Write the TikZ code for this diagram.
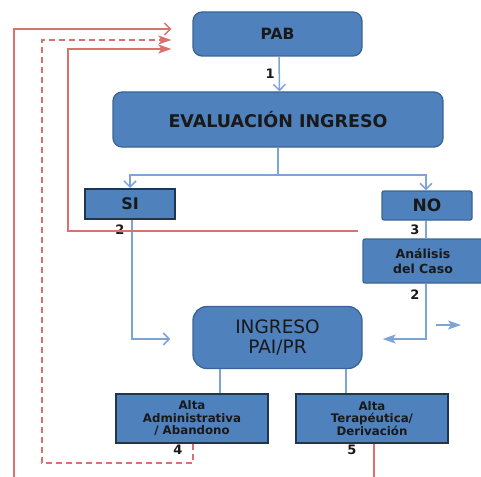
\documentclass[tikz,border=0pt]{standalone}
\usepackage{fontspec}
\setmainfont{DejaVu Sans}
\usepackage{tikz}
\usetikzlibrary{arrows.meta,calc,positioning}
\usepackage{xcolor}

\definecolor{boxfill}{HTML}{4F81BD}
\definecolor{boxline}{HTML}{3A6496}
\definecolor{boxdark}{HTML}{1F3550}
\definecolor{flowblue}{HTML}{7EA4D6}
\definecolor{backred}{HTML}{D9716D}

\begin{document}
\begin{tikzpicture}[
    x=1pt, y=-1pt,
    every node/.style={inner sep=0pt, align=center, text=black!90},
    bigbox/.style={draw=boxline, line width=1.3pt, fill=boxfill, rounded corners=9pt},
    flatbox/.style={draw=boxline, line width=1.3pt, fill=boxfill, rounded corners=2pt},
    darkbox/.style={draw=boxdark, line width=2pt, fill=boxfill},
    flow/.style={draw=flowblue, line width=1.5pt},
    back/.style={draw=backred, line width=1.4pt},
    openhead/.style={-{Straight Barb[length=6pt,width=12pt]}},
    fillhead/.style={-{Stealth[length=13pt,width=9pt,inset=3pt]}},
    num/.style={font=\fontsize{13}{13}\selectfont\bfseries}
]
\useasboundingbox (0,0) rectangle (481,476);
\clip (0,0) rectangle (481,476);

% boxes
\node[bigbox, minimum width=169pt, minimum height=44pt, font=\fontsize{15.5}{15.5}\selectfont\bfseries] (pab) at (277.5,34) {PAB};
\node[bigbox, minimum width=330pt, minimum height=55pt, font=\fontsize{17.5}{17.5}\selectfont\bfseries] (eval) at (278,119.5) {EVALUACIÓN INGRESO};
\node[darkbox, minimum width=90pt, minimum height=30pt, font=\fontsize{16}{16}\selectfont\bfseries] (si) at (130,204) {SI};
\node[flatbox, minimum width=90pt, minimum height=29pt, font=\fontsize{17}{17}\selectfont\bfseries] (no) at (427,205.5) {NO};
\node[flatbox, minimum width=120pt, minimum height=44pt, font=\fontsize{12.5}{15}\selectfont\bfseries] (analisis) at (423,261) {Análisis\\del Caso};
\node[bigbox, rounded corners=14pt, minimum width=169pt, minimum height=62pt, font=\fontsize{18.5}{20}\selectfont] (ingreso) at (277.5,337.5) {INGRESO\\PAI/PR};
\node[darkbox, minimum width=152pt, minimum height=49pt, font=\fontsize{11.8}{12.5}\selectfont\bfseries] (altaadm) at (192,418.5) {Alta\\Administrativa\\/ Abandono};
\node[darkbox, minimum width=152pt, minimum height=49pt, font=\fontsize{11.8}{12.5}\selectfont\bfseries] (altater) at (372,418.5) {Alta\\Terapéutica/\\Derivación};

% blue flow
\coordinate (split) at (278,175);
\draw[flow, openhead] ([xshift=1.5pt]pab.south) -- ([xshift=1.5pt]eval.north) node[num, midway, xshift=-9pt] {1};
\draw[flow] (eval.south) -- (split);
\draw[flow, openhead] (split) -| (si.north);
\draw[flow, openhead] (split) -| ([xshift=-1pt]no.north);
\draw[flow, openhead, shorten >=22pt] ([xshift=2pt]si.south) |- ([yshift=-1.5pt]ingreso.west);
\node[num] (n2a) at (120,230) {2};
\draw[flow] ([xshift=-1pt]no.south) -- ([xshift=-1pt]no.south |- analisis.north);
\node[num] (n3) at (415,230) {3};
\draw[flow, fillhead, shorten >=20pt] ([xshift=3pt]analisis.south) |- ([yshift=-1.5pt]ingreso.east);
\node[num] (n2b) at (415,295) {2};
\coordinate (stubA) at (436,325);
\coordinate (stubB) at (461,325);
\draw[flow, fillhead] (stubA) -- (stubB);
\draw[flow] ([xshift=-57.5pt]ingreso.south) -- ([xshift=-57.5pt]ingreso.south |- altaadm.north);
\draw[flow] ([xshift=68.5pt]ingreso.south) -- ([xshift=68.5pt]ingreso.south |- altater.north);
\node[num] (n4) at (178,450) {4};
\node[num] (n5) at (352,450) {5};

% red returns
\coordinate (fromno) at (358,231);
\draw[back, fillhead] (fromno) -- (68,231) |- ([xshift=-21pt,yshift=-15pt]pab.west);
\draw[back, dashed, dash pattern=on 6pt off 4pt, fillhead] ([xshift=1pt]altaadm.south) |- (42,463) |- ([xshift=-21pt,yshift=-6pt]pab.west);
\draw[back, openhead] ([xshift=2pt]altater.south) |- (14,492) |- ([xshift=-21pt,yshift=5pt]pab.west);

\end{tikzpicture}
\end{document}
